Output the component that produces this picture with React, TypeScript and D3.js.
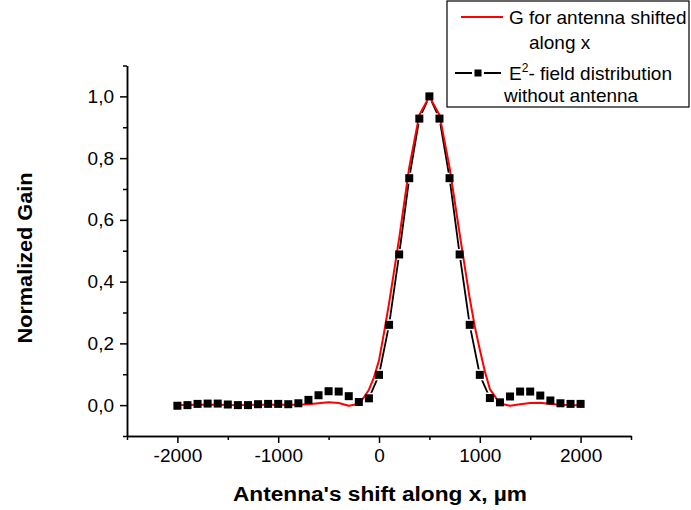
import React, { useRef, useEffect } from 'react';
import * as d3 from 'd3';

// E^2 field distribution without antenna (black squares)
const fieldX = [
	-2000, -1900, -1800, -1700, -1600, -1500, -1400, -1300, -1200, -1100, -1000,
	-900, -800, -700, -600, -500, -400, -300, -200, -100, 0,
	100, 200, 300, 400, 500, 600, 700, 800, 900, 1000,
	1100, 1200, 1300, 1400, 1500, 1600, 1700, 1800, 1900, 2000,
];
const fieldY = [
	-0.002, 0.0, 0.004, 0.005, 0.005, 0.002, 0.0, 0.0, 0.003, 0.004, 0.004,
	0.003, 0.006, 0.017, 0.032, 0.045, 0.044, 0.029, 0.01, 0.022, 0.098,
	0.26, 0.488, 0.735, 0.928, 1.0, 0.928, 0.735, 0.488, 0.26, 0.098,
	0.023, 0.009, 0.028, 0.044, 0.044, 0.031, 0.015, 0.006, 0.004, 0.004,
];

// G for antenna shifted along x (red line)
const gainX = [
	-2000, -1800, -1600, -1400, -1200, -1000, -800, -700, -600, -500, -400, -300,
	-200, -150, -100, -50, 0, 50, 100, 200, 300, 400, 500, 600, 700, 800, 900,
	950, 1000, 1050, 1100, 1200, 1300, 1400, 1500, 1600, 1700, 1800, 1900, 2000,
];
const gainY = [
	0.0, 0.001, 0.001, 0.0, 0.001, 0.001, 0.001, 0.003, 0.006, 0.009, 0.007, -0.002,
	0.004, 0.025, 0.05, 0.09, 0.145, 0.235, 0.33, 0.54, 0.77, 0.94, 1.0, 0.94, 0.77, 0.555, 0.346,
	0.255, 0.18, 0.11, 0.052, 0.005, -0.002, 0.003, 0.007, 0.008, 0.004, 0.001, 0.0, 0.0,
];

const xMajor = [-2000, -1000, 0, 1000, 2000];
const xMinor = [-2500, -1500, -500, 500, 1500, 2500];
const yMajor = [0, 0.2, 0.4, 0.6, 0.8, 1.0];
const yMinor = [-0.1, 0.1, 0.3, 0.5, 0.7, 0.9, 1.1];

const legendLabels = ['G for antenna shifted', 'along x', 'E', '2', '- field distribution', 'without antenna'];

const FONT = '"Liberation Sans", Arial, sans-serif';

const App: React.FC = () => {
	const chartRef = useRef<SVGSVGElement | null>(null);

	useEffect(() => {
		if (!chartRef.current) return;
		const svg = d3.select(chartRef.current);
		svg.selectAll('*').remove();

		const x = d3.scaleLinear().domain([-2500, 2500]).range([127, 631]);
		const y = d3.scaleLinear().domain([-0.1, 1.1]).range([436, 65.5]);

		const styleAxis = (g: d3.Selection<SVGGElement, unknown, null, undefined>) => {
			g.attr('font-family', FONT).attr('font-size', 19);
			g.selectAll('line').attr('stroke', '#000').attr('stroke-width', 1.5);
			g.selectAll('path').attr('stroke', '#000').attr('stroke-width', 1.5);
			g.selectAll('text').attr('fill', '#000');
		};

		// X axis
		svg.append('g')
			.attr('transform', 'translate(0,436)')
			.call(d3.axisBottom(x).tickValues(xMinor).tickSize(4).tickSizeOuter(0).tickFormat(() => ''))
			.call(styleAxis);
		svg.append('g')
			.attr('transform', 'translate(0,436)')
			.call(d3.axisBottom(x).tickValues(xMajor).tickSize(7).tickSizeOuter(0).tickPadding(6).tickFormat(d => String(d)))
			.call(styleAxis);

		// Y axis
		const commaFmt = (d: d3.NumberValue) => d3.format('.1f')(+d).replace('.', ',');
		svg.append('g')
			.attr('transform', 'translate(127,0)')
			.call(d3.axisLeft(y).tickValues(yMinor).tickSize(4).tickSizeOuter(0).tickFormat(() => ''))
			.call(styleAxis);
		svg.append('g')
			.attr('transform', 'translate(127,0)')
			.call(d3.axisLeft(y).tickValues(yMajor).tickSize(7).tickSizeOuter(0).tickPadding(6).tickFormat(commaFmt))
			.call(styleAxis);

		// Axis titles
		svg.append('text')
			.attr('x', 380).attr('y', 501)
			.attr('text-anchor', 'middle')
			.attr('font-family', FONT).attr('font-weight', 'bold').attr('font-size', 20)
			.attr('textLength', 294).attr('lengthAdjust', 'spacingAndGlyphs')
			.text("Antenna's shift along x, \u00b5m");
		svg.append('text')
			.attr('transform', 'translate(31.5,258) rotate(-90)')
			.attr('text-anchor', 'middle')
			.attr('font-family', FONT).attr('font-weight', 'bold').attr('font-size', 20)
			.attr('textLength', 171).attr('lengthAdjust', 'spacingAndGlyphs')
			.text('Normalized Gain');

		const fieldData = fieldX.map((v, i) => [v, fieldY[i]] as [number, number]);
		const gainData = gainX.map((v, i) => [v, gainY[i]] as [number, number]);
		const line = d3.line<[number, number]>().x(d => x(d[0])).y(d => y(d[1]));

		// black line
		svg.append('path')
			.datum(fieldData)
			.attr('fill', 'none').attr('stroke', '#000').attr('stroke-width', 1.8)
			.attr('d', line);
		// white halos around markers
		svg.append('g').selectAll('rect')
			.data(fieldData).join('rect')
			.attr('x', d => x(d[0]) - 5.5).attr('y', d => y(d[1]) - 5.5)
			.attr('width', 11).attr('height', 11).attr('fill', '#fff');
		// red line
		svg.append('path')
			.datum(gainData)
			.attr('fill', 'none').attr('stroke', '#ff0000').attr('stroke-width', 2)
			.attr('stroke-linejoin', 'round')
			.attr('d', line);
		// squares
		svg.append('g').selectAll('rect')
			.data(fieldData).join('rect')
			.attr('x', d => x(d[0]) - 4).attr('y', d => y(d[1]) - 4)
			.attr('width', 8).attr('height', 8).attr('fill', '#000');

		// Legend
		const lg = svg.append('g').attr('font-family', FONT).attr('font-size', 19).attr('fill', '#000');
		lg.append('rect')
			.attr('x', 447).attr('y', 1).attr('width', 242).attr('height', 106)
			.attr('fill', '#fff').attr('stroke', '#000').attr('stroke-width', 1.2);
		lg.append('line')
			.attr('x1', 461).attr('x2', 503).attr('y1', 17).attr('y2', 17)
			.attr('stroke', '#ff0000').attr('stroke-width', 2);
		lg.append('text').attr('x', 509).attr('y', 24).text(legendLabels[0]);
		lg.append('text').attr('x', 529).attr('y', 49).text(legendLabels[1]);
		lg.append('line')
			.attr('x1', 455).attr('x2', 501).attr('y1', 73).attr('y2', 73)
			.attr('stroke', '#000').attr('stroke-width', 1.8);
		lg.append('rect').attr('x', 472).attr('y', 67).attr('width', 12).attr('height', 12).attr('fill', '#fff');
		lg.append('rect').attr('x', 474.5).attr('y', 69.5).attr('width', 7).attr('height', 7).attr('fill', '#000');
		const t = lg.append('text').attr('x', 509).attr('y', 80);
		t.append('tspan').text(legendLabels[2]);
		t.append('tspan').attr('dy', -8).attr('font-size', 12).text(legendLabels[3]);
		t.append('tspan').attr('dy', 8).text(legendLabels[4]);
		lg.append('text').attr('x', 504).attr('y', 102).text(legendLabels[5]);
	}, []);

	return (
		<svg
			ref={chartRef}
			width={691}
			height={510}
			style={{ position: 'absolute', left: 0, top: 0, background: '#fff' }}
		/>
	);
};

export default App;
